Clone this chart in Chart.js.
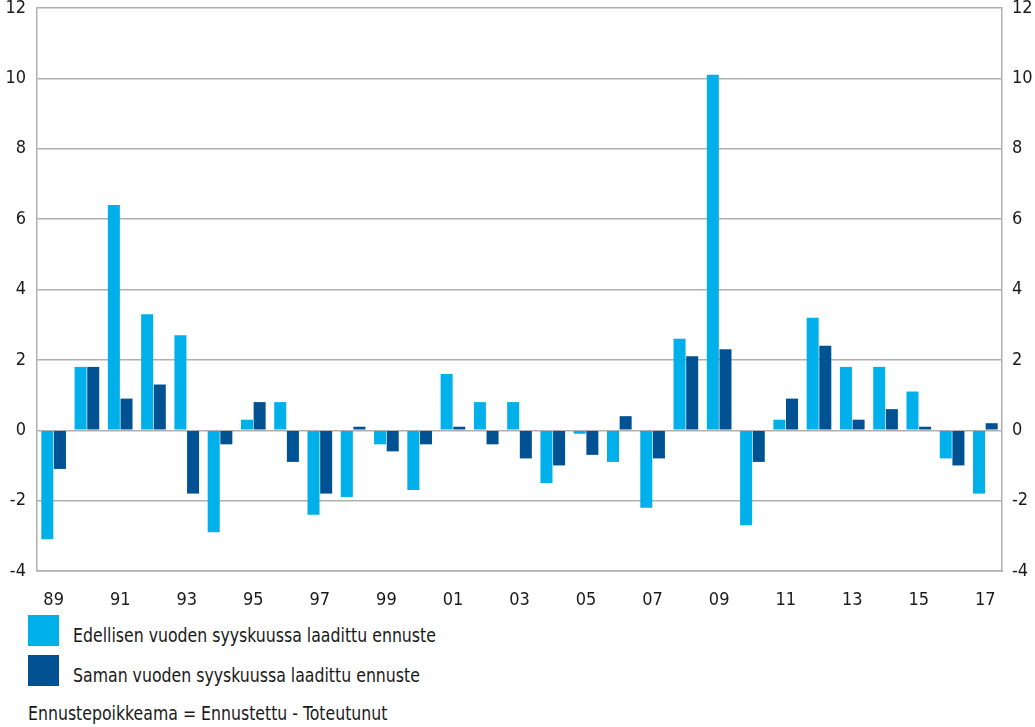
<!DOCTYPE html>
<html>
<head>
<meta charset="utf-8">
<script src="https://cdn.jsdelivr.net/npm/chart.js@4.4.1/dist/chart.umd.min.js"></script>
<style>
  body { margin: 0; background: #fff; font-family: 'DejaVu Sans Condensed', 'DejaVu Sans', sans-serif; color: #1a1a1a; }
  #wrap { position: relative; width: 1035px; height: 727px; }
  #chart { position: absolute; left: 0; top: 0; }
  .box { position: absolute; left: 28px; width: 31px; height: 31px; }
  .txt { position: absolute; font-size: 20px; line-height: 24px; white-space: nowrap; transform: scaleX(0.875); transform-origin: 0 50%; }
</style>
</head>
<body>
<div id="wrap">
  <canvas id="chart" width="1035" height="605"></canvas>
  <div class="box" style="top:615px;background:#00b0ea"></div>
  <div class="txt" style="left:73px;top:623px">Edellisen vuoden syyskuussa laadittu ennuste</div>
  <div class="box" style="top:655px;background:#005293"></div>
  <div class="txt" style="left:73px;top:663px">Saman vuoden syyskuussa laadittu ennuste</div>
  <div class="txt" style="left:28px;top:701px">Ennustepoikkeama = Ennustettu - Toteutunut</div>
</div>
<script>
// vuodet 1989-2017
var vuodet = ['89','90','91','92','93','94','95','96','97','98','99','00','01','02','03',
  '04','05','06','07','08','09','10','11','12','13','14','15','16','17'];
var edellinen = [-3.1, 1.8, 6.4, 3.3, 2.7, -2.9, 0.3, 0.8, -2.4, -1.9, -0.4, -1.7, 1.6, 0.8, 0.8,
  -1.5, -0.1, -0.9, -2.2, 2.6, 10.1, -2.7, 0.3, 3.2, 1.8, 1.8, 1.1, -0.8, -1.8];
var saman = [-1.1, 1.8, 0.9, 1.3, -1.8, -0.4, 0.8, -0.9, -1.8, 0.1, -0.6, -0.4, 0.1, -0.4, -0.8,
  -1.0, -0.7, 0.4, -0.8, 2.1, 2.3, -0.9, 0.9, 2.4, 0.3, 0.6, 0.1, -1.0, 0.2];
var yMin = -4, yMax = 12, yStep = 2;

var fontti = { family: "'DejaVu Sans Condensed', 'DejaVu Sans', sans-serif", size: 18, lineHeight: 1.2 };
var harmaa = '#b0b0b0';

new Chart(document.getElementById('chart'), {
  type: 'bar',
  data: {
    labels: vuodet,
    datasets: [{
      label: 'Edellisen vuoden syyskuussa laadittu ennuste',
      data: edellinen,
      backgroundColor: '#00b0ea',
      categoryPercentage: 0.76,
      barPercentage: 0.95
    }, {
      label: 'Saman vuoden syyskuussa laadittu ennuste',
      data: saman,
      backgroundColor: '#005293',
      categoryPercentage: 0.76,
      barPercentage: 0.95
    }]
  },
  options: {
    responsive: false,
    animation: false,
    layout: { padding: { top: 8, left: 0, right: 0, bottom: 0 } },
    plugins: { legend: { display: false }, tooltip: { enabled: false } },
    scales: {
      x: {
        grid: { display: false },
        border: { display: true, color: harmaa, width: 1.5 },
        ticks: {
          autoSkip: false, maxRotation: 0, padding: 11, color: '#1a1a1a', font: fontti,
          callback: function (v, i) { return i % 2 === 0 ? this.getLabelForValue(v) : ''; }
        },
        afterFit: function (s) { s.height = 34; }
      },
      y: {
        position: 'left', min: yMin, max: yMax,
        grid: { color: harmaa, lineWidth: 1.5, drawTicks: false },
        border: { display: true, color: harmaa, width: 1.5 },
        ticks: { stepSize: yStep, padding: 11, color: '#1a1a1a', font: fontti },
        afterFit: function (s) { s.width = 37; s.paddingTop = 0; }
      },
      y2: {
        position: 'right', min: yMin, max: yMax,
        grid: { display: false, drawTicks: false },
        border: { display: true, color: harmaa, width: 1.5 },
        ticks: { stepSize: yStep, padding: 10, crossAlign: 'near', color: '#1a1a1a', font: fontti },
        afterFit: function (s) { s.width = 33; s.paddingTop = 0; }
      }
    }
  }
});
</script>
</body>
</html>
